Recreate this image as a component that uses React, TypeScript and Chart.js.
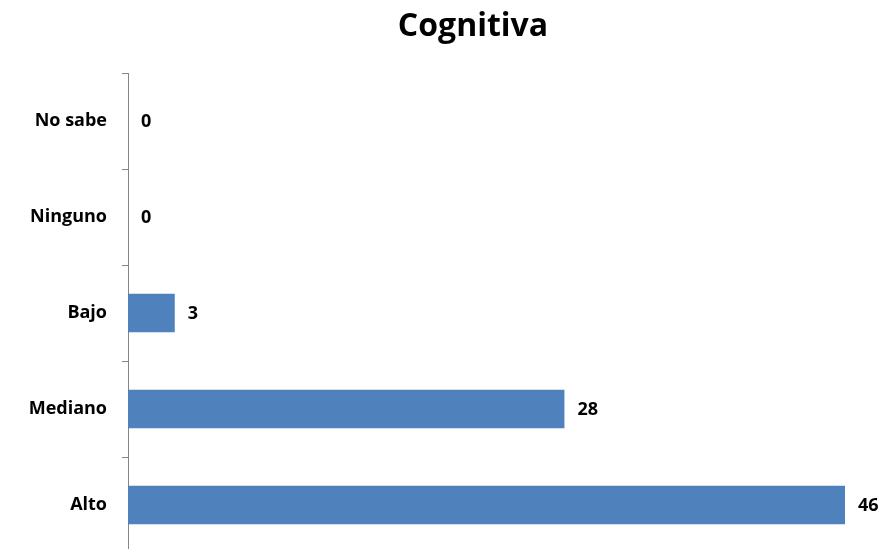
import React, { useEffect, useRef } from "react";
import { Chart, registerables } from "chart.js";

Chart.register(...registerables);

const categories = ["No sabe", "Ninguno", "Bajo", "Mediano", "Alto"];
const values = [0, 0, 3, 28, 46];
const titleText = "Cognitiva";

const FONT = "'Open Sans', Lato, sans-serif";

const valueLabels = {
  id: "valueLabels",
  afterDatasetsDraw(chart: any) {
    const ctx = chart.ctx;
    const meta = chart.getDatasetMeta(0);
    ctx.save();
    ctx.font = `bold 18px ${FONT}`;
    ctx.fillStyle = "#000";
    ctx.textAlign = "left";
    ctx.textBaseline = "middle";
    meta.data.forEach((bar: any, i: number) => {
      ctx.fillText(String(values[i]), bar.x + 13, bar.y + 1);
    });
    ctx.restore();
  },
};

const titlePlugin = {
  id: "titlePlugin",
  afterDraw(chart: any) {
    const ctx = chart.ctx;
    ctx.save();
    ctx.font = `bold 32px ${FONT}`;
    ctx.fillStyle = "#000";
    ctx.textAlign = "center";
    ctx.textBaseline = "alphabetic";
    ctx.fillText(titleText, 473, 36);
    ctx.restore();
  },
};

export default function App() {
  const ref = useRef<HTMLCanvasElement>(null);
  useEffect(() => {
    if (!ref.current) return;
    const chart = new Chart(ref.current, {
      type: "bar",
      data: {
        labels: categories,
        datasets: [
          {
            data: values,
            backgroundColor: "#4F81BD",
            borderWidth: 0,
            barPercentage: 0.8,
            categoryPercentage: 0.5,
          },
        ],
      },
      options: {
        animation: false,
        responsive: false,
        indexAxis: "y",
        layout: { padding: { left: 0, right: 41, top: 73, bottom: 0 } },
        plugins: {
          legend: { display: false },
          tooltip: { enabled: false },
          title: { display: false },
        },
        scales: {
          x: {
            display: false,
            min: 0,
            max: 46,
          },
          y: {
            afterFit(scale: any) {
              scale.width = 128;
              scale.paddingTop = 0;
              scale.paddingBottom = 0;
            },
            border: { display: true, color: "#868686", width: 1 },
            grid: {
              display: true,
              drawOnChartArea: false,
              drawTicks: true,
              tickLength: 6,
              color: "#868686",
              offset: true,
            },
            ticks: {
              color: "#000",
              padding: 15,
              font: { family: FONT, size: 18, weight: "bold" },
            },
          },
        },
      },
      plugins: [valueLabels, titlePlugin],
    });
    return () => chart.destroy();
  }, []);
  return (
    <div
      style={{
        position: "fixed",
        left: 0,
        top: 0,
        width: 886,
        height: 549,
        overflow: "hidden",
        background: "#fff",
      }}
    >
      <canvas ref={ref} width={886} height={553} style={{ display: "block" }} />
    </div>
  );
}
